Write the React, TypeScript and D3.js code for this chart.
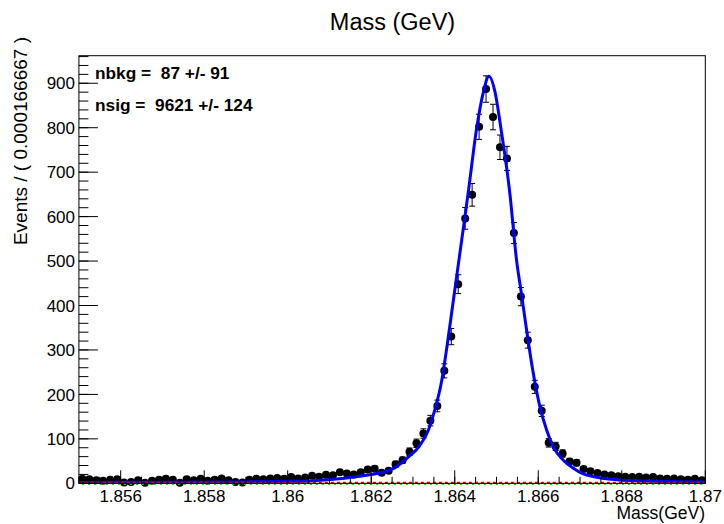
import React from "react";
import * as d3 from "d3";

// ---- data ----
const massMin = 1.855;
const massMax = 1.87;
const nBins = 90;
const binCounts = [
  10, 9, 7, 6, 8, 9, 2, 3, 7, 1,
  6, 8, 10, 8, 1, 9, 7, 10, 6, 8,
  11, 7, 3, 2, 8, 10, 9, 11, 12, 10,
  14, 11, 13, 17, 15, 19, 18, 25, 22, 20,
  25, 31, 33, 24, 28, 43, 52, 71, 90, 112,
  141, 174, 253, 330, 448, 596, 649, 802, 887, 824,
  756, 731, 563, 420, 322, 217, 163, 91, 83, 67,
  49, 46, 32, 27, 23, 20, 18, 16, 15, 14,
  15, 13, 14, 11, 10, 11, 9, 8, 10, 7,
];
const curveMass = [
  1.855, 1.857, 1.859, 1.86, 1.8605, 1.861, 1.8615, 1.862, 1.8624, 1.8626,
  1.8629, 1.86315, 1.86337, 1.8635, 1.86369, 1.86381, 1.86395, 1.8641, 1.86432, 1.86453,
  1.86468, 1.86482, 1.86497, 1.8651, 1.86532, 1.86548, 1.8656, 1.86572, 1.86588, 1.86604,
  1.8662, 1.86636, 1.8666, 1.86684, 1.86708, 1.8674, 1.86768, 1.868, 1.869, 1.87,
];
const curveValue = [
  1.8, 2.3, 3.2, 4.3, 5.2, 8.5, 13, 20, 28, 37,
  60, 83, 120, 158, 232, 305, 400, 502, 652, 802,
  878, 916, 878, 802, 652, 502, 425, 345, 248, 172,
  120, 82, 52, 34, 21, 13.5, 9.5, 7, 4.2, 3,
];
const bkgLevel = 1.0;
const otherLevel = 0.0;
const xMajorTicks = [1.856, 1.858, 1.86, 1.862, 1.864, 1.866, 1.868, 1.87];
const xTickLabels = ["1.856", "1.858", "1.86", "1.862", "1.864", "1.866", "1.868", "1.87"];
const yMajorTicks = [0, 100, 200, 300, 400, 500, 600, 700, 800, 900];
const titleText = "Mass (GeV)";
const xTitle = "Mass(GeV)";
const yTitle = "Events / ( 0.000166667 )";
const legendLines = ["nbkg =  87 +/- 91", "nsig =  9621 +/- 124"];

// ---- layout ----
const W = 724;
const H = 524;
const L = 78.9;
const R = 705.3;
const T = 55.7;
const B = 483.3;
const yMax = 962;
const font = "'Liberation Sans', Arial, Helvetica, sans-serif";

export default function App() {
  const x = d3.scaleLinear().domain([massMin, massMax]).range([L, R]);
  const y = d3.scaleLinear().domain([0, yMax]).range([B, T]);
  const binW = (massMax - massMin) / nBins;

  const xMinor = d3.range(0, 31).map((i) => massMin + i * 0.0005);
  const yMinor = d3.range(0, 49).map((i) => i * 20).filter((v) => v <= yMax);

  const lineGen = d3
    .line<number>()
    .x((_, i) => x(curveMass[i]))
    .y((d) => y(d))
    .curve(d3.curveMonotoneX);
  const curvePath = lineGen(curveValue) || "";

  const points = binCounts.map((c, i) => {
    const m = massMin + (i + 0.5) * binW;
    const e = Math.sqrt(Math.max(c, 1));
    return { m, c, lo: Math.max(c - e, 0), hi: c + e };
  });

  return (
    <svg
      width={W}
      height={H}
      style={{ position: "absolute", left: 0, top: 0, display: "block", background: "#fff" }}
      fontFamily={font}
    >
      <rect x={0} y={0} width={W} height={H} fill="#fff" />
      {/* title */}
      <text x={392.5} y={30} fontSize={23.5} textAnchor="middle" fill="#000">
        {titleText}
      </text>

      {/* data points */}
      <g>
        {points.map((p, i) => (
          <g key={i}>
            <line x1={x(p.m)} x2={x(p.m)} y1={y(p.lo)} y2={y(p.hi)} stroke="#000" strokeWidth={1} />
            <line x1={x(p.m) - 3} x2={x(p.m) + 3} y1={y(p.lo)} y2={y(p.lo)} stroke="#000" strokeWidth={1} />
            <line x1={x(p.m) - 3} x2={x(p.m) + 3} y1={y(p.hi)} y2={y(p.hi)} stroke="#000" strokeWidth={1} />
            <circle cx={x(p.m)} cy={y(p.c)} r={4} fill="#000" />
          </g>
        ))}
      </g>

      {/* fit curve */}
      <path d={curvePath} fill="none" stroke="#0000ff" strokeWidth={3} />

      {/* component lines */}
      <line x1={L} x2={R} y1={y(bkgLevel)} y2={y(bkgLevel)} stroke="#ff0000" strokeWidth={2} strokeDasharray="3,3" />
      <line x1={L} x2={R} y1={y(otherLevel) + 0.7} y2={y(otherLevel) + 0.7} stroke="#00dd00" strokeWidth={2} strokeDasharray="2,4" strokeDashoffset={3} />

      {/* frame */}
      <rect x={L} y={T} width={R - L} height={B - T} fill="none" stroke="#000" strokeWidth={1} />

      {/* x ticks */}
      {xMinor.map((m, i) => (
        <line key={"xm" + i} x1={x(m)} x2={x(m)} y1={B} y2={B - 6.5} stroke="#000" strokeWidth={1} />
      ))}
      {xMajorTicks.map((m, i) => (
        <line key={"xM" + i} x1={x(m)} x2={x(m)} y1={B} y2={B - 13} stroke="#000" strokeWidth={1} />
      ))}
      {xMajorTicks.map((m, i) => (
        <text key={"xl" + i} x={x(m)} y={502} fontSize={17} textAnchor="middle" fill="#000">
          {xTickLabels[i]}
        </text>
      ))}

      {/* y ticks */}
      {yMinor.map((v, i) => (
        <line key={"ym" + i} x1={L} x2={L + 9.5} y1={y(v)} y2={y(v)} stroke="#000" strokeWidth={1} />
      ))}
      {yMajorTicks.map((v, i) => (
        <line key={"yM" + i} x1={L} x2={L + 19} y1={y(v)} y2={y(v)} stroke="#000" strokeWidth={1} />
      ))}
      {yMajorTicks.map((v, i) => (
        <text key={"yl" + i} x={75} y={y(v)} dy="0.36em" fontSize={17} textAnchor="end" fill="#000">
          {String(v)}
        </text>
      ))}

      {/* axis titles */}
      <text x={705} y={519} fontSize={17.5} textAnchor="end" fill="#000">
        {xTitle}
      </text>
      <text
        transform="translate(27,37) rotate(-90)"
        fontSize={19}
        textAnchor="end"
        fill="#000"
      >
        {yTitle}
      </text>

      {/* legend */}
      {legendLines.map((t, i) => (
        <text
          key={"lg" + i}
          x={95}
          y={78.5 + i * 32.3}
          fontSize={17.3}
          fontWeight="bold"
          fill="#000"
          style={{ whiteSpace: "pre" }}
        >
          {t}
        </text>
      ))}
    </svg>
  );
}
